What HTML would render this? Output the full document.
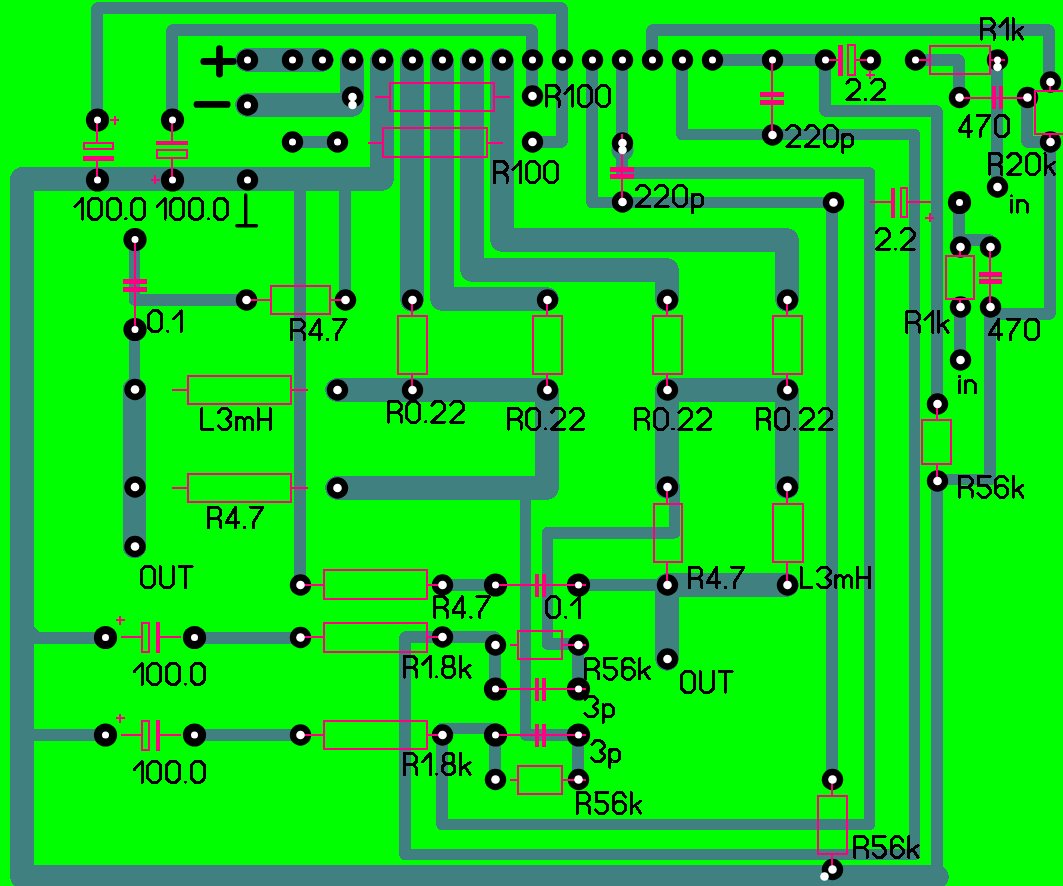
<!DOCTYPE html>
<html><head><meta charset="utf-8"><title>PCB layout</title>
<style>html,body{margin:0;padding:0;background:#00ff00;width:1063px;height:886px;overflow:hidden;font-family:"Liberation Sans",sans-serif}svg{display:block}</style>
</head><body>
<svg width="1063" height="886" viewBox="0 0 1063 886" shape-rendering="crispEdges"><rect width="1063" height="886" fill="#00ff00"/><path d="M97,120 L97,8 L562,8 L562,142 L532,142" stroke="#408080" stroke-width="11.5" fill="none" stroke-linecap="round" stroke-linejoin="round"/><path d="M172,120 L172,30 L532,30 L532,96" stroke="#408080" stroke-width="11.5" fill="none" stroke-linecap="round" stroke-linejoin="round"/><path d="M592,60 L592,202.5 L832,202.5 L832,779.5" stroke="#408080" stroke-width="11.5" fill="none" stroke-linecap="round" stroke-linejoin="round"/><path d="M622,60 L622,173 L869.5,173 L869.5,824.6 L442,824.6 L442,728.5 L495,728.5 L495,779.5" stroke="#408080" stroke-width="11.5" fill="none" stroke-linecap="round" stroke-linejoin="round"/><path d="M652,60 L652,30 L1049,30 L1049,82" stroke="#408080" stroke-width="11.5" fill="none" stroke-linecap="round" stroke-linejoin="round"/><path d="M682,60 L682,134.5 L914.5,134.5 L914.5,854.4 L405,854.4 L405,637 L495,637 L495,689" stroke="#408080" stroke-width="11.5" fill="none" stroke-linecap="round" stroke-linejoin="round"/><path d="M712,60 L825,60 L825,111 L937,111 L937,404" stroke="#408080" stroke-width="11.5" fill="none" stroke-linecap="round" stroke-linejoin="round"/><path d="M937,481 L937,877" stroke="#408080" stroke-width="11.5" fill="none" stroke-linecap="round" stroke-linejoin="round"/><path d="M990,307 L990,479.6 L937,479.6" stroke="#408080" stroke-width="11.5" fill="none" stroke-linecap="round" stroke-linejoin="round"/><path d="M1027,97.5 L1027,142 L1050,142 L1050,314 L990,314" stroke="#408080" stroke-width="11.5" fill="none" stroke-linecap="round" stroke-linejoin="round"/><path d="M915,60 L959,60 L959,97.5" stroke="#408080" stroke-width="11.5" fill="none" stroke-linecap="round" stroke-linejoin="round"/><path d="M997,67 L997,187" stroke="#408080" stroke-width="11.5" fill="none" stroke-linecap="round" stroke-linejoin="round"/><path d="M959,202.5 L959,240 L990,240" stroke="#408080" stroke-width="11.5" fill="none" stroke-linecap="round" stroke-linejoin="round"/><path d="M960,307 L960,360" stroke="#408080" stroke-width="11.5" fill="none" stroke-linecap="round" stroke-linejoin="round"/><path d="M292,142 L337,142" stroke="#408080" stroke-width="11.5" fill="none" stroke-linecap="round" stroke-linejoin="round"/><path d="M134.5,239.5 L134.5,300 L246,300" stroke="#408080" stroke-width="11.5" fill="none" stroke-linecap="round" stroke-linejoin="round"/><path d="M134.5,329.5 L134.5,389.5" stroke="#408080" stroke-width="11.5" fill="none" stroke-linecap="round" stroke-linejoin="round"/><path d="M300,179 L300,585" stroke="#408080" stroke-width="11.5" fill="none" stroke-linecap="round" stroke-linejoin="round"/><path d="M345,179 L345,300" stroke="#408080" stroke-width="11.5" fill="none" stroke-linecap="round" stroke-linejoin="round"/><path d="M442,585 L495,585" stroke="#408080" stroke-width="11.5" fill="none" stroke-linecap="round" stroke-linejoin="round"/><path d="M578,585 L667,585" stroke="#408080" stroke-width="11.5" fill="none" stroke-linecap="round" stroke-linejoin="round"/><path d="M22,637.8 L105,637.8" stroke="#408080" stroke-width="11.5" fill="none" stroke-linecap="round" stroke-linejoin="round"/><path d="M194,637.8 L300,637.8" stroke="#408080" stroke-width="11.5" fill="none" stroke-linecap="round" stroke-linejoin="round"/><path d="M22,735 L105,735" stroke="#408080" stroke-width="11.5" fill="none" stroke-linecap="round" stroke-linejoin="round"/><path d="M194,735 L300,735" stroke="#408080" stroke-width="11.5" fill="none" stroke-linecap="round" stroke-linejoin="round"/><path d="M674.7,487 L674.7,532.8 L547.5,532.8 L547.5,644 L578,644 L578,689" stroke="#408080" stroke-width="11.5" fill="none" stroke-linecap="round" stroke-linejoin="round"/><path d="M525.7,487 L525.7,735 L578,735 L578,779.5" stroke="#408080" stroke-width="11.5" fill="none" stroke-linecap="round" stroke-linejoin="round"/><path d="M247,60 L322,60" stroke="#408080" stroke-width="23.5" fill="none" stroke-linecap="round" stroke-linejoin="round"/><path d="M247,105 L352,105 L352,60" stroke="#408080" stroke-width="23.5" fill="none" stroke-linecap="round" stroke-linejoin="round"/><path d="M382,60 L382,179 L22,179 L22,877 L937,877" stroke="#408080" stroke-width="23.5" fill="none" stroke-linecap="round" stroke-linejoin="round"/><path d="M412,60 L412,300" stroke="#408080" stroke-width="23.5" fill="none" stroke-linecap="round" stroke-linejoin="round"/><path d="M442,60 L442,299 L547,299" stroke="#408080" stroke-width="23.5" fill="none" stroke-linecap="round" stroke-linejoin="round"/><path d="M472,60 L472,270 L667,270 L667,300" stroke="#408080" stroke-width="23.5" fill="none" stroke-linecap="round" stroke-linejoin="round"/><path d="M502,60 L502,240 L787,240 L787,300" stroke="#408080" stroke-width="23.5" fill="none" stroke-linecap="round" stroke-linejoin="round"/><path d="M337,390 L547,390 L547,488 L337,488" stroke="#408080" stroke-width="23.5" fill="none" stroke-linecap="round" stroke-linejoin="round"/><path d="M667,487 L667,390 L787,390 L787,487" stroke="#408080" stroke-width="23.5" fill="none" stroke-linecap="round" stroke-linejoin="round"/><path d="M134.5,389.5 L134.5,546.5" stroke="#408080" stroke-width="23.5" fill="none" stroke-linecap="round" stroke-linejoin="round"/><path d="M787,585 L667,585 L667,659" stroke="#408080" stroke-width="23.5" fill="none" stroke-linecap="round" stroke-linejoin="round"/><path d="M33.8,626.5V633H40Z" fill="#408080"/><circle cx="622.5" cy="150" r="11" fill="#408080" shape-rendering="auto"/><g fill="#000" shape-rendering="auto"><circle cx="247.5" cy="60" r="10.7"/><circle cx="292.5" cy="60" r="10.7"/><circle cx="322.5" cy="60" r="10.7"/><circle cx="352.5" cy="60" r="10.7"/><circle cx="382.5" cy="60" r="10.7"/><circle cx="412.5" cy="60" r="10.7"/><circle cx="442.5" cy="60" r="10.7"/><circle cx="472.5" cy="60" r="10.7"/><circle cx="502.5" cy="60" r="10.7"/><circle cx="532.5" cy="60" r="10.7"/><circle cx="562.5" cy="60" r="10.7"/><circle cx="592.5" cy="60" r="10.7"/><circle cx="622.5" cy="60" r="10.7"/><circle cx="652.5" cy="60" r="10.7"/><circle cx="682.5" cy="60" r="10.7"/><circle cx="712.5" cy="60" r="10.7"/><circle cx="772.5" cy="60" r="10.7"/><circle cx="825.5" cy="60" r="10.7"/><circle cx="870.5" cy="60" r="10.7"/><circle cx="915.5" cy="60" r="10.7"/><circle cx="997.5" cy="60" r="10.7"/><circle cx="97.5" cy="120" r="11.6"/><circle cx="172.5" cy="120" r="11.6"/><circle cx="97.5" cy="180" r="11.6"/><circle cx="172.5" cy="180" r="11.6"/><circle cx="247.5" cy="180" r="10.7"/><circle cx="247.5" cy="105" r="10.7"/><circle cx="352.5" cy="97" r="10.7"/><circle cx="292.5" cy="142" r="10.7"/><circle cx="337.5" cy="142" r="10.7"/><circle cx="532.5" cy="96" r="10.7"/><circle cx="532.5" cy="142" r="10.7"/><circle cx="622.5" cy="143" r="10.7"/><circle cx="622.5" cy="202" r="10.7"/><circle cx="772.5" cy="135" r="10.7"/><circle cx="833.5" cy="202.5" r="10.7"/><circle cx="959.5" cy="202.5" r="11.6"/><circle cx="959.5" cy="97.5" r="10.7"/><circle cx="1027.5" cy="97.5" r="10.7"/><circle cx="1050.5" cy="82" r="10.7"/><circle cx="1050.5" cy="142" r="10.7"/><circle cx="997.5" cy="187" r="10.7"/><circle cx="135.0" cy="239.5" r="11.6"/><circle cx="135.0" cy="329.5" r="11.6"/><circle cx="135.0" cy="389.5" r="10.7"/><circle cx="135.0" cy="487" r="10.7"/><circle cx="135.0" cy="546.5" r="10.7"/><circle cx="246.5" cy="300" r="10.7"/><circle cx="345.5" cy="300" r="10.7"/><circle cx="412.5" cy="300" r="10.7"/><circle cx="547.5" cy="300" r="10.7"/><circle cx="667.5" cy="300" r="10.7"/><circle cx="787.5" cy="300" r="10.7"/><circle cx="337.5" cy="390" r="10.7"/><circle cx="412.5" cy="390" r="10.7"/><circle cx="547.5" cy="390" r="10.7"/><circle cx="667.5" cy="390" r="10.7"/><circle cx="787.5" cy="390" r="10.7"/><circle cx="960.5" cy="247" r="10.7"/><circle cx="990.5" cy="247" r="10.7"/><circle cx="960.5" cy="307" r="10.7"/><circle cx="990.5" cy="307" r="10.7"/><circle cx="960.5" cy="360" r="10.7"/><circle cx="937.5" cy="404" r="10.7"/><circle cx="937.5" cy="481" r="10.7"/><circle cx="337.5" cy="488" r="10.7"/><circle cx="667.5" cy="487" r="10.7"/><circle cx="787.5" cy="487" r="10.7"/><circle cx="300.5" cy="585" r="10.7"/><circle cx="442.5" cy="585" r="10.7"/><circle cx="495.5" cy="585" r="11.6"/><circle cx="578.5" cy="585" r="11.6"/><circle cx="667.5" cy="585" r="10.7"/><circle cx="787.5" cy="585" r="10.7"/><circle cx="105.5" cy="637.5" r="11.6"/><circle cx="194.5" cy="637.5" r="11.6"/><circle cx="300.5" cy="637.5" r="10.7"/><circle cx="442.5" cy="637" r="10.7"/><circle cx="495.5" cy="645" r="10.7"/><circle cx="578.5" cy="645" r="10.7"/><circle cx="667.5" cy="659" r="10.7"/><circle cx="495.5" cy="689" r="11.6"/><circle cx="578.5" cy="689" r="11.6"/><circle cx="105.5" cy="735" r="11.6"/><circle cx="194.5" cy="735" r="11.6"/><circle cx="300.5" cy="735" r="10.7"/><circle cx="442.5" cy="735" r="10.7"/><circle cx="495.5" cy="735" r="11.6"/><circle cx="578.5" cy="735" r="11.6"/><circle cx="495.5" cy="779.5" r="10.7"/><circle cx="578.5" cy="779.5" r="10.7"/><circle cx="832.5" cy="779.5" r="10.7"/><circle cx="832.5" cy="869.5" r="10.7"/></g><line x1="97" y1="120" x2="97" y2="142" stroke="#ff0080" stroke-width="2"/><rect x="83.5" y="143.0" width="29.25" height="6" stroke="#ff0080" stroke-width="2" fill="none"/><rect x="82.5" y="155.5" width="31.25" height="5.0" fill="#ff0080"/><line x1="97" y1="160.5" x2="97" y2="180" stroke="#ff0080" stroke-width="2"/><line x1="110.0" y1="120" x2="119.0" y2="120" stroke="#ff0080" stroke-width="2"/><line x1="114.5" y1="115.5" x2="114.5" y2="124.5" stroke="#ff0080" stroke-width="2"/><line x1="172" y1="120" x2="172" y2="140.5" stroke="#ff0080" stroke-width="2"/><rect x="156.25" y="140.5" width="31.25" height="4.0" fill="#ff0080"/><rect x="157.25" y="150.0" width="29.25" height="8" stroke="#ff0080" stroke-width="2" fill="none"/><line x1="172" y1="159" x2="172" y2="180" stroke="#ff0080" stroke-width="2"/><line x1="150.5" y1="179.5" x2="159.5" y2="179.5" stroke="#ff0080" stroke-width="2"/><line x1="155" y1="175.0" x2="155" y2="184.0" stroke="#ff0080" stroke-width="2"/><line x1="134.5" y1="239.5" x2="134.5" y2="329.5" stroke="#ff0080" stroke-width="2"/><rect x="122.5" y="279" width="24.0" height="5" fill="#ff0080"/><rect x="122.5" y="287" width="24.0" height="5" fill="#ff0080"/><line x1="772" y1="60" x2="772" y2="135" stroke="#ff0080" stroke-width="2"/><rect x="760" y="92" width="24" height="5" fill="#ff0080"/><rect x="760" y="99.5" width="24" height="5.0" fill="#ff0080"/><line x1="622" y1="134" x2="622" y2="202" stroke="#ff0080" stroke-width="2"/><rect x="610" y="167" width="24" height="5" fill="#ff0080"/><rect x="610" y="174" width="24" height="5" fill="#ff0080"/><line x1="990" y1="247" x2="990" y2="307" stroke="#ff0080" stroke-width="2"/><rect x="978.5" y="272.4" width="23.0" height="4.5" fill="#ff0080"/><rect x="978.5" y="279.1" width="23.0" height="4.5" fill="#ff0080"/><line x1="959" y1="97.5" x2="1027" y2="97.5" stroke="#ff0080" stroke-width="2"/><rect x="992" y="86.0" width="4.2000000000000455" height="23.0" fill="#ff0080"/><rect x="998.6" y="86.0" width="4.2000000000000455" height="23.0" fill="#ff0080"/><line x1="499" y1="585" x2="586" y2="585" stroke="#ff0080" stroke-width="2"/><rect x="534.5" y="573.5" width="4.2000000000000455" height="23.0" fill="#ff0080"/><rect x="542" y="573.5" width="4.2000000000000455" height="23.0" fill="#ff0080"/><line x1="499" y1="689" x2="586" y2="689" stroke="#ff0080" stroke-width="2"/><rect x="534.5" y="677.5" width="4.2000000000000455" height="23.0" fill="#ff0080"/><rect x="542" y="677.5" width="4.2000000000000455" height="23.0" fill="#ff0080"/><line x1="499" y1="735" x2="586" y2="735" stroke="#ff0080" stroke-width="2"/><rect x="534.5" y="723.5" width="4.2000000000000455" height="23.0" fill="#ff0080"/><rect x="542" y="723.5" width="4.2000000000000455" height="23.0" fill="#ff0080"/><line x1="825" y1="60" x2="838" y2="60" stroke="#ff0080" stroke-width="2"/><rect x="838" y="45" width="5" height="30.799999999999997" fill="#ff0080"/><rect x="848.2" y="45.2" width="6.399999999999977" height="29.599999999999994" stroke="#ff0080" stroke-width="2" fill="none"/><line x1="855.6" y1="60" x2="870" y2="60" stroke="#ff0080" stroke-width="2"/><line x1="865.5" y1="74.5" x2="874.5" y2="74.5" stroke="#ff0080" stroke-width="2"/><line x1="870" y1="70.0" x2="870" y2="79.0" stroke="#ff0080" stroke-width="2"/><line x1="869.5" y1="202" x2="891" y2="202" stroke="#ff0080" stroke-width="2"/><rect x="891" y="187.5" width="4" height="30.0" fill="#ff0080"/><rect x="900.5" y="188.0" width="6.5" height="28.5" stroke="#ff0080" stroke-width="2" fill="none"/><line x1="908" y1="202" x2="930.75" y2="202" stroke="#ff0080" stroke-width="2"/><line x1="925.0" y1="217.5" x2="934.0" y2="217.5" stroke="#ff0080" stroke-width="2"/><line x1="929.5" y1="213.0" x2="929.5" y2="222.0" stroke="#ff0080" stroke-width="2"/><line x1="120.5" y1="637" x2="141.25" y2="637" stroke="#ff0080" stroke-width="2"/><rect x="142.25" y="622.75" width="6.75" height="28.75" stroke="#ff0080" stroke-width="2" fill="none"/><rect x="155.5" y="621.75" width="4.0" height="30.75" fill="#ff0080"/><line x1="159.5" y1="637" x2="180.5" y2="637" stroke="#ff0080" stroke-width="2"/><line x1="115.5" y1="620" x2="124.5" y2="620" stroke="#ff0080" stroke-width="2"/><line x1="120" y1="615.5" x2="120" y2="624.5" stroke="#ff0080" stroke-width="2"/><line x1="120.5" y1="735" x2="141.25" y2="735" stroke="#ff0080" stroke-width="2"/><rect x="142.25" y="720.75" width="6.75" height="28.75" stroke="#ff0080" stroke-width="2" fill="none"/><rect x="155.5" y="719.75" width="4.0" height="30.75" fill="#ff0080"/><line x1="159.5" y1="735" x2="180.5" y2="735" stroke="#ff0080" stroke-width="2"/><line x1="115.5" y1="718" x2="124.5" y2="718" stroke="#ff0080" stroke-width="2"/><line x1="120" y1="713.5" x2="120" y2="722.5" stroke="#ff0080" stroke-width="2"/><line x1="374.75" y1="96.5" x2="389" y2="96.5" stroke="#ff0080" stroke-width="2"/><rect x="390.0" y="82.5" width="104" height="28.25" stroke="#ff0080" stroke-width="2" fill="none"/><line x1="495" y1="96.5" x2="509.75" y2="96.5" stroke="#ff0080" stroke-width="2"/><line x1="368" y1="142.5" x2="382" y2="142.5" stroke="#ff0080" stroke-width="2"/><rect x="383.0" y="127.5" width="104" height="29.5" stroke="#ff0080" stroke-width="2" fill="none"/><line x1="488" y1="142.5" x2="503" y2="142.5" stroke="#ff0080" stroke-width="2"/><line x1="246" y1="300" x2="269.75" y2="300" stroke="#ff0080" stroke-width="2"/><rect x="270.75" y="285.5" width="58.75" height="28.5" stroke="#ff0080" stroke-width="2" fill="none"/><line x1="330.5" y1="300" x2="345" y2="300" stroke="#ff0080" stroke-width="2"/><line x1="172.2" y1="389.8" x2="186.5" y2="389.8" stroke="#ff0080" stroke-width="2"/><rect x="187.5" y="375.9" width="103.69999999999999" height="27.80000000000001" stroke="#ff0080" stroke-width="2" fill="none"/><line x1="292.2" y1="389.8" x2="307.6" y2="389.8" stroke="#ff0080" stroke-width="2"/><line x1="172.2" y1="487.8" x2="186.5" y2="487.8" stroke="#ff0080" stroke-width="2"/><rect x="187.5" y="474.0" width="103.69999999999999" height="27.69999999999999" stroke="#ff0080" stroke-width="2" fill="none"/><line x1="292.2" y1="487.8" x2="307.6" y2="487.8" stroke="#ff0080" stroke-width="2"/><line x1="300" y1="585" x2="323" y2="585" stroke="#ff0080" stroke-width="2"/><rect x="324.0" y="570.0" width="103" height="28.5" stroke="#ff0080" stroke-width="2" fill="none"/><line x1="428" y1="585" x2="442" y2="585" stroke="#ff0080" stroke-width="2"/><line x1="300" y1="637" x2="323" y2="637" stroke="#ff0080" stroke-width="2"/><rect x="324.0" y="623.0" width="103" height="28.75" stroke="#ff0080" stroke-width="2" fill="none"/><line x1="428" y1="637" x2="442" y2="637" stroke="#ff0080" stroke-width="2"/><line x1="300" y1="735" x2="323" y2="735" stroke="#ff0080" stroke-width="2"/><rect x="324.0" y="720.5" width="103" height="28.75" stroke="#ff0080" stroke-width="2" fill="none"/><line x1="428" y1="735" x2="442" y2="735" stroke="#ff0080" stroke-width="2"/><line x1="510" y1="645" x2="516.8" y2="645" stroke="#ff0080" stroke-width="2"/><rect x="517.8" y="630.8" width="44.40000000000009" height="28.600000000000023" stroke="#ff0080" stroke-width="2" fill="none"/><line x1="563.2" y1="645" x2="586" y2="645" stroke="#ff0080" stroke-width="2"/><line x1="510" y1="779.5" x2="516.8" y2="779.5" stroke="#ff0080" stroke-width="2"/><rect x="517.8" y="765.8" width="44.40000000000009" height="27.90000000000009" stroke="#ff0080" stroke-width="2" fill="none"/><line x1="563.2" y1="779.5" x2="586" y2="779.5" stroke="#ff0080" stroke-width="2"/><line x1="915" y1="60" x2="929" y2="60" stroke="#ff0080" stroke-width="2"/><rect x="930.0" y="45.5" width="59.5" height="28.5" stroke="#ff0080" stroke-width="2" fill="none"/><line x1="990.5" y1="60" x2="1005" y2="60" stroke="#ff0080" stroke-width="2"/><line x1="412" y1="300" x2="412" y2="314.5" stroke="#ff0080" stroke-width="2"/><rect x="397.5" y="315.5" width="29.0" height="58.5" stroke="#ff0080" stroke-width="2" fill="none"/><line x1="412" y1="375" x2="412" y2="390" stroke="#ff0080" stroke-width="2"/><line x1="547" y1="300" x2="547" y2="314.5" stroke="#ff0080" stroke-width="2"/><rect x="532.5" y="315.5" width="29.0" height="58.5" stroke="#ff0080" stroke-width="2" fill="none"/><line x1="547" y1="375" x2="547" y2="390" stroke="#ff0080" stroke-width="2"/><line x1="667" y1="300" x2="667" y2="314.5" stroke="#ff0080" stroke-width="2"/><rect x="652.5" y="315.5" width="29.0" height="58.5" stroke="#ff0080" stroke-width="2" fill="none"/><line x1="667" y1="375" x2="667" y2="390" stroke="#ff0080" stroke-width="2"/><line x1="787" y1="300" x2="787" y2="314.5" stroke="#ff0080" stroke-width="2"/><rect x="772.5" y="315.5" width="29.0" height="58.5" stroke="#ff0080" stroke-width="2" fill="none"/><line x1="787" y1="375" x2="787" y2="390" stroke="#ff0080" stroke-width="2"/><line x1="667" y1="487" x2="667" y2="502.75" stroke="#ff0080" stroke-width="2"/><rect x="653.5" y="503.75" width="28.75" height="58.0" stroke="#ff0080" stroke-width="2" fill="none"/><line x1="667" y1="562.75" x2="667" y2="585" stroke="#ff0080" stroke-width="2"/><line x1="787" y1="487" x2="787" y2="502.6" stroke="#ff0080" stroke-width="2"/><rect x="773.0" y="503.6" width="29.5" height="57.89999999999998" stroke="#ff0080" stroke-width="2" fill="none"/><line x1="787" y1="562.5" x2="787" y2="585" stroke="#ff0080" stroke-width="2"/><line x1="1050" y1="82" x2="1050" y2="90.3" stroke="#ff0080" stroke-width="2"/><rect x="1035.4" y="91.3" width="29.59999999999991" height="42.39999999999999" stroke="#ff0080" stroke-width="2" fill="none"/><line x1="1050" y1="134.7" x2="1050" y2="142" stroke="#ff0080" stroke-width="2"/><line x1="960" y1="247" x2="960" y2="255" stroke="#ff0080" stroke-width="2"/><rect x="945.5" y="256.0" width="28.700000000000045" height="43" stroke="#ff0080" stroke-width="2" fill="none"/><line x1="960" y1="300" x2="960" y2="307" stroke="#ff0080" stroke-width="2"/><line x1="937" y1="404" x2="937" y2="419" stroke="#ff0080" stroke-width="2"/><rect x="922.0" y="420.0" width="29" height="44.25" stroke="#ff0080" stroke-width="2" fill="none"/><line x1="937" y1="465.25" x2="937" y2="481" stroke="#ff0080" stroke-width="2"/><line x1="832" y1="779.5" x2="832" y2="794.5" stroke="#ff0080" stroke-width="2"/><rect x="817.5" y="795.5" width="29.0" height="58.25" stroke="#ff0080" stroke-width="2" fill="none"/><line x1="832" y1="854.75" x2="832" y2="869.5" stroke="#ff0080" stroke-width="2"/><g fill="#fff" shape-rendering="auto"><circle cx="247.5" cy="60" r="3.5"/><circle cx="292.5" cy="60" r="3.5"/><circle cx="322.5" cy="60" r="3.5"/><circle cx="352.5" cy="60" r="3.5"/><circle cx="382.5" cy="60" r="3.5"/><circle cx="412.5" cy="60" r="3.5"/><circle cx="442.5" cy="60" r="3.5"/><circle cx="472.5" cy="60" r="3.5"/><circle cx="502.5" cy="60" r="3.5"/><circle cx="532.5" cy="60" r="3.5"/><circle cx="562.5" cy="60" r="3.5"/><circle cx="592.5" cy="60" r="3.5"/><circle cx="622.5" cy="60" r="3.5"/><circle cx="652.5" cy="60" r="3.5"/><circle cx="682.5" cy="60" r="3.5"/><circle cx="712.5" cy="60" r="3.5"/><circle cx="772.5" cy="60" r="3.5"/><circle cx="825.5" cy="60" r="3.5"/><circle cx="870.5" cy="60" r="3.5"/><circle cx="915.5" cy="60" r="3.5"/><circle cx="997.5" cy="60" r="3.5"/><circle cx="97.5" cy="120" r="3.5"/><circle cx="172.5" cy="120" r="3.5"/><circle cx="97.5" cy="180" r="3.5"/><circle cx="172.5" cy="180" r="3.5"/><circle cx="247.5" cy="180" r="3.5"/><circle cx="247.5" cy="105" r="3.5"/><circle cx="352.5" cy="97" r="4.3"/><circle cx="292.5" cy="142" r="3.5"/><circle cx="337.5" cy="142" r="3.5"/><circle cx="532.5" cy="96" r="4.3"/><circle cx="532.5" cy="142" r="4.3"/><circle cx="622.5" cy="143" r="4.3"/><circle cx="622.5" cy="202" r="4.3"/><circle cx="772.5" cy="135" r="4.3"/><circle cx="833.5" cy="202.5" r="4.3"/><circle cx="959.5" cy="202.5" r="3.5"/><circle cx="959.5" cy="97.5" r="4.3"/><circle cx="1027.5" cy="97.5" r="4.3"/><circle cx="1050.5" cy="82" r="4.3"/><circle cx="1050.5" cy="142" r="4.3"/><circle cx="997.5" cy="187" r="4.3"/><circle cx="135.0" cy="239.5" r="3.5"/><circle cx="135.0" cy="329.5" r="3.5"/><circle cx="135.0" cy="389.5" r="4.3"/><circle cx="135.0" cy="487" r="4.3"/><circle cx="135.0" cy="546.5" r="4.3"/><circle cx="246.5" cy="300" r="4.3"/><circle cx="345.5" cy="300" r="4.3"/><circle cx="412.5" cy="300" r="4.3"/><circle cx="547.5" cy="300" r="4.3"/><circle cx="667.5" cy="300" r="4.3"/><circle cx="787.5" cy="300" r="4.3"/><circle cx="337.5" cy="390" r="4.3"/><circle cx="412.5" cy="390" r="4.3"/><circle cx="547.5" cy="390" r="4.3"/><circle cx="667.5" cy="390" r="4.3"/><circle cx="787.5" cy="390" r="4.3"/><circle cx="960.5" cy="247" r="4.3"/><circle cx="990.5" cy="247" r="4.3"/><circle cx="960.5" cy="307" r="4.3"/><circle cx="990.5" cy="307" r="4.3"/><circle cx="960.5" cy="360" r="4.3"/><circle cx="937.5" cy="404" r="4.3"/><circle cx="937.5" cy="481" r="4.3"/><circle cx="337.5" cy="488" r="4.3"/><circle cx="667.5" cy="487" r="4.3"/><circle cx="787.5" cy="487" r="4.3"/><circle cx="300.5" cy="585" r="4.3"/><circle cx="442.5" cy="585" r="4.3"/><circle cx="495.5" cy="585" r="3.5"/><circle cx="578.5" cy="585" r="3.5"/><circle cx="667.5" cy="585" r="4.3"/><circle cx="787.5" cy="585" r="4.3"/><circle cx="105.5" cy="637.5" r="3.5"/><circle cx="194.5" cy="637.5" r="3.5"/><circle cx="300.5" cy="637.5" r="4.3"/><circle cx="442.5" cy="637" r="4.3"/><circle cx="495.5" cy="645" r="4.3"/><circle cx="578.5" cy="645" r="4.3"/><circle cx="667.5" cy="659" r="4.3"/><circle cx="495.5" cy="689" r="3.5"/><circle cx="578.5" cy="689" r="3.5"/><circle cx="105.5" cy="735" r="3.5"/><circle cx="194.5" cy="735" r="3.5"/><circle cx="300.5" cy="735" r="4.3"/><circle cx="442.5" cy="735" r="4.3"/><circle cx="495.5" cy="735" r="3.5"/><circle cx="578.5" cy="735" r="3.5"/><circle cx="495.5" cy="779.5" r="4.3"/><circle cx="578.5" cy="779.5" r="4.3"/><circle cx="832.5" cy="779.5" r="4.3"/><circle cx="832.5" cy="869.5" r="4.3"/><circle cx="352.5" cy="105" r="4.3"/><circle cx="622.5" cy="150" r="4.3"/><circle cx="997.5" cy="67" r="4.3"/><circle cx="824.5" cy="876.5" r="4.3"/></g><g stroke="#000" stroke-linecap="round" fill="none" shape-rendering="auto"><path d="M203.8,61.5H233.2M219.5,48.7V74" stroke-width="6.8"/><path d="M197,104.4H227.2" stroke-width="6.8"/><path d="M245.7,195V226M236.8,225.8H256.5" stroke-width="3.4"/></g><g stroke="#000" stroke-width="3.0" fill="none" stroke-linecap="round" stroke-linejoin="round"><g transform="translate(74.90,198.40) scale(1.0,1.0)"><path transform="translate(0.00,0)" d="M0,8L7.8,0V20.8"/><path transform="translate(13.50,0)" d="M3.8,0H9.2L13,3.8V17L9.2,20.8H3.8L0,17V3.8Z"/><path transform="translate(32.20,0)" d="M3.8,0H9.2L13,3.8V17L9.2,20.8H3.8L0,17V3.8Z"/><path transform="translate(50.90,0)" d="M0,20.5H0.4"/><path transform="translate(57.00,0)" d="M3.8,0H9.2L13,3.8V17L9.2,20.8H3.8L0,17V3.8Z"/></g><g transform="translate(157.30,198.40) scale(1.0,1.0)"><path transform="translate(0.00,0)" d="M0,8L7.8,0V20.8"/><path transform="translate(13.50,0)" d="M3.8,0H9.2L13,3.8V17L9.2,20.8H3.8L0,17V3.8Z"/><path transform="translate(32.20,0)" d="M3.8,0H9.2L13,3.8V17L9.2,20.8H3.8L0,17V3.8Z"/><path transform="translate(50.90,0)" d="M0,20.5H0.4"/><path transform="translate(57.00,0)" d="M3.8,0H9.2L13,3.8V17L9.2,20.8H3.8L0,17V3.8Z"/></g><g transform="translate(546.50,85.50) scale(1.0,1.0)"><path transform="translate(0.00,0)" d="M0,20.8V0H9L12.5,3.5V7.5L9,11H0M9,11L12.5,14.5V20.8"/><path transform="translate(18.20,0)" d="M0,8L7.8,0V20.8"/><path transform="translate(31.70,0)" d="M3.8,0H9.2L13,3.8V17L9.2,20.8H3.8L0,17V3.8Z"/><path transform="translate(50.40,0)" d="M3.8,0H9.2L13,3.8V17L9.2,20.8H3.8L0,17V3.8Z"/></g><g transform="translate(494.50,161.60) scale(1.0,1.0)"><path transform="translate(0.00,0)" d="M0,20.8V0H9L12.5,3.5V7.5L9,11H0M9,11L12.5,14.5V20.8"/><path transform="translate(18.20,0)" d="M0,8L7.8,0V20.8"/><path transform="translate(31.70,0)" d="M3.8,0H9.2L13,3.8V17L9.2,20.8H3.8L0,17V3.8Z"/><path transform="translate(50.40,0)" d="M3.8,0H9.2L13,3.8V17L9.2,20.8H3.8L0,17V3.8Z"/></g><g transform="translate(786.70,125.80) scale(1.0,1.0)"><path transform="translate(0.00,0)" d="M0,4L3.8,0H9L12.8,3.8V8.6L0,20.8H13"/><path transform="translate(18.70,0)" d="M0,4L3.8,0H9L12.8,3.8V8.6L0,20.8H13"/><path transform="translate(37.40,0)" d="M3.8,0H9.2L13,3.8V17L9.2,20.8H3.8L0,17V3.8Z"/><path transform="translate(56.10,0)" d="M0,8.8V26.8M0,11.4L2.6,8.8H7.4L10,11.4V18.2L7.4,20.8H2.6L0,18.2"/></g><g transform="translate(636.40,185.60) scale(1.0,1.0)"><path transform="translate(0.00,0)" d="M0,4L3.8,0H9L12.8,3.8V8.6L0,20.8H13"/><path transform="translate(18.70,0)" d="M0,4L3.8,0H9L12.8,3.8V8.6L0,20.8H13"/><path transform="translate(37.40,0)" d="M3.8,0H9.2L13,3.8V17L9.2,20.8H3.8L0,17V3.8Z"/><path transform="translate(56.10,0)" d="M0,8.8V26.8M0,11.4L2.6,8.8H7.4L10,11.4V18.2L7.4,20.8H2.6L0,18.2"/></g><g transform="translate(846.90,79.10) scale(1.0,1.0)"><path transform="translate(0.00,0)" d="M0,4L3.8,0H9L12.8,3.8V8.6L0,20.8H13"/><path transform="translate(18.70,0)" d="M0,20.5H0.4"/><path transform="translate(24.80,0)" d="M0,4L3.8,0H9L12.8,3.8V8.6L0,20.8H13"/></g><g transform="translate(981.50,18.50) scale(1.0,1.0)"><path transform="translate(0.00,0)" d="M0,20.8V0H9L12.5,3.5V7.5L9,11H0M9,11L12.5,14.5V20.8"/><path transform="translate(18.20,0)" d="M0,8L7.8,0V20.8"/><path transform="translate(31.70,0)" d="M0,0V20.8M9.4,8.8L0,15.5M4,12.5L9.4,20.8"/></g><g transform="translate(959.40,115.60) scale(1.0,1.0)"><path transform="translate(0.00,0)" d="M9.2,20.8V0L0,14.6V15.6H12"/><path transform="translate(17.70,0)" d="M0,0H12.6L3,15.3V20.8"/><path transform="translate(36.00,0)" d="M3.8,0H9.2L13,3.8V17L9.2,20.8H3.8L0,17V3.8Z"/></g><g transform="translate(989.40,153.50) scale(1.0,1.0)"><path transform="translate(0.00,0)" d="M0,20.8V0H9L12.5,3.5V7.5L9,11H0M9,11L12.5,14.5V20.8"/><path transform="translate(18.20,0)" d="M0,4L3.8,0H9L12.8,3.8V8.6L0,20.8H13"/><path transform="translate(36.90,0)" d="M3.8,0H9.2L13,3.8V17L9.2,20.8H3.8L0,17V3.8Z"/><path transform="translate(55.60,0)" d="M0,0V20.8M9.4,8.8L0,15.5M4,12.5L9.4,20.8"/></g><g transform="translate(1011.50,191.30) scale(1.0,1.0)"><path transform="translate(0.00,0)" d="M0,8.8V20.8M0,4.6H0.2"/><path transform="translate(5.90,0)" d="M0,8.8V20.8M0,11.4L2.6,8.8H6.5L9.9,12.2V20.8"/></g><g transform="translate(876.40,228.50) scale(1.0,1.0)"><path transform="translate(0.00,0)" d="M0,4L3.8,0H9L12.8,3.8V8.6L0,20.8H13"/><path transform="translate(18.70,0)" d="M0,20.5H0.4"/><path transform="translate(24.80,0)" d="M0,4L3.8,0H9L12.8,3.8V8.6L0,20.8H13"/></g><g transform="translate(906.90,311.50) scale(1.0,1.0)"><path transform="translate(0.00,0)" d="M0,20.8V0H9L12.5,3.5V7.5L9,11H0M9,11L12.5,14.5V20.8"/><path transform="translate(18.20,0)" d="M0,8L7.8,0V20.8"/><path transform="translate(31.70,0)" d="M0,0V20.8M9.4,8.8L0,15.5M4,12.5L9.4,20.8"/></g><g transform="translate(989.70,319.00) scale(1.0,1.0)"><path transform="translate(0.00,0)" d="M9.2,20.8V0L0,14.6V15.6H12"/><path transform="translate(17.70,0)" d="M0,0H12.6L3,15.3V20.8"/><path transform="translate(36.00,0)" d="M3.8,0H9.2L13,3.8V17L9.2,20.8H3.8L0,17V3.8Z"/></g><g transform="translate(959.60,371.90) scale(1.0,1.0)"><path transform="translate(0.00,0)" d="M0,8.8V20.8M0,4.6H0.2"/><path transform="translate(5.90,0)" d="M0,8.8V20.8M0,11.4L2.6,8.8H6.5L9.9,12.2V20.8"/></g><g transform="translate(959.60,476.40) scale(1.0,1.0)"><path transform="translate(0.00,0)" d="M0,20.8V0H9L12.5,3.5V7.5L9,11H0M9,11L12.5,14.5V20.8"/><path transform="translate(18.20,0)" d="M12.3,0H0.5V9H8.5L12.3,12.8V17.2L8.7,20.8H3.6L0,17.2"/><path transform="translate(36.20,0)" d="M12,4.5L8.5,0H3.6L0,3.6V17.2L3.6,20.8H8.4L12,17.2V12.6L8.4,9H3.6L0,12.6"/><path transform="translate(53.90,0)" d="M0,0V20.8M9.4,8.8L0,15.5M4,12.5L9.4,20.8"/></g><g transform="translate(148.70,310.80) scale(1.0,1.0)"><path transform="translate(0.00,0)" d="M3.8,0H9.2L13,3.8V17L9.2,20.8H3.8L0,17V3.8Z"/><path transform="translate(18.70,0)" d="M0,20.5H0.4"/><path transform="translate(24.80,0)" d="M0,8L7.8,0V20.8"/></g><g transform="translate(291.60,319.10) scale(1.0,1.0)"><path transform="translate(0.00,0)" d="M0,20.8V0H9L12.5,3.5V7.5L9,11H0M9,11L12.5,14.5V20.8"/><path transform="translate(18.20,0)" d="M9.2,20.8V0L0,14.6V15.6H12"/><path transform="translate(35.90,0)" d="M0,20.5H0.4"/><path transform="translate(42.00,0)" d="M0,0H12.6L3,15.3V20.8"/></g><g transform="translate(201.70,408.70) scale(1.0,1.0)"><path transform="translate(0.00,0)" d="M0,0V20.8H11"/><path transform="translate(16.70,0)" d="M0,4L3.6,0H8.9L12.5,3.6V6.6L8.2,10.4L12.5,14.2V17.2L8.9,20.8H3.6L0,17.2"/><path transform="translate(34.90,0)" d="M0,8.8V20.8M0,11.4L2.6,8.8H5.4L8,11.4V20.8M8,11.4L10.6,8.8H13.4L16,11.4V20.8"/><path transform="translate(56.60,0)" d="M0,0V20.8M12,0V20.8M0,10.6H12"/></g><g transform="translate(388.75,401.30) scale(1.0,1.0)"><path transform="translate(0.00,0)" d="M0,20.8V0H9L12.5,3.5V7.5L9,11H0M9,11L12.5,14.5V20.8"/><path transform="translate(18.20,0)" d="M3.8,0H9.2L13,3.8V17L9.2,20.8H3.8L0,17V3.8Z"/><path transform="translate(36.90,0)" d="M0,20.5H0.4"/><path transform="translate(43.00,0)" d="M0,4L3.8,0H9L12.8,3.8V8.6L0,20.8H13"/><path transform="translate(61.70,0)" d="M0,4L3.8,0H9L12.8,3.8V8.6L0,20.8H13"/></g><g transform="translate(508.60,408.40) scale(1.0,1.0)"><path transform="translate(0.00,0)" d="M0,20.8V0H9L12.5,3.5V7.5L9,11H0M9,11L12.5,14.5V20.8"/><path transform="translate(18.20,0)" d="M3.8,0H9.2L13,3.8V17L9.2,20.8H3.8L0,17V3.8Z"/><path transform="translate(36.90,0)" d="M0,20.5H0.4"/><path transform="translate(43.00,0)" d="M0,4L3.8,0H9L12.8,3.8V8.6L0,20.8H13"/><path transform="translate(61.70,0)" d="M0,4L3.8,0H9L12.8,3.8V8.6L0,20.8H13"/></g><g transform="translate(635.90,408.50) scale(1.0,1.0)"><path transform="translate(0.00,0)" d="M0,20.8V0H9L12.5,3.5V7.5L9,11H0M9,11L12.5,14.5V20.8"/><path transform="translate(18.20,0)" d="M3.8,0H9.2L13,3.8V17L9.2,20.8H3.8L0,17V3.8Z"/><path transform="translate(36.90,0)" d="M0,20.5H0.4"/><path transform="translate(43.00,0)" d="M0,4L3.8,0H9L12.8,3.8V8.6L0,20.8H13"/><path transform="translate(61.70,0)" d="M0,4L3.8,0H9L12.8,3.8V8.6L0,20.8H13"/></g><g transform="translate(757.40,408.50) scale(1.0,1.0)"><path transform="translate(0.00,0)" d="M0,20.8V0H9L12.5,3.5V7.5L9,11H0M9,11L12.5,14.5V20.8"/><path transform="translate(18.20,0)" d="M3.8,0H9.2L13,3.8V17L9.2,20.8H3.8L0,17V3.8Z"/><path transform="translate(36.90,0)" d="M0,20.5H0.4"/><path transform="translate(43.00,0)" d="M0,4L3.8,0H9L12.8,3.8V8.6L0,20.8H13"/><path transform="translate(61.70,0)" d="M0,4L3.8,0H9L12.8,3.8V8.6L0,20.8H13"/></g><g transform="translate(208.40,507.10) scale(1.0,1.0)"><path transform="translate(0.00,0)" d="M0,20.8V0H9L12.5,3.5V7.5L9,11H0M9,11L12.5,14.5V20.8"/><path transform="translate(18.20,0)" d="M9.2,20.8V0L0,14.6V15.6H12"/><path transform="translate(35.90,0)" d="M0,20.5H0.4"/><path transform="translate(42.00,0)" d="M0,0H12.6L3,15.3V20.8"/></g><g transform="translate(141.40,566.70) scale(1.0,1.0)"><path transform="translate(0.00,0)" d="M3.6,0H9.5L13.1,3.6V17.2L9.5,20.8H3.6L0,17.2V3.6Z"/><path transform="translate(18.80,0)" d="M0,0V17.2L3.6,20.8H9.5L13.1,17.2V0"/><path transform="translate(37.60,0)" d="M0,0H13.1M6.55,0V20.8"/></g><g transform="translate(689.40,567.00) scale(1.0,1.0)"><path transform="translate(0.00,0)" d="M0,20.8V0H9L12.5,3.5V7.5L9,11H0M9,11L12.5,14.5V20.8"/><path transform="translate(18.20,0)" d="M9.2,20.8V0L0,14.6V15.6H12"/><path transform="translate(35.90,0)" d="M0,20.5H0.4"/><path transform="translate(42.00,0)" d="M0,0H12.6L3,15.3V20.8"/></g><g transform="translate(801.00,567.00) scale(1.0,1.0)"><path transform="translate(0.00,0)" d="M0,0V20.8H11"/><path transform="translate(16.70,0)" d="M0,4L3.6,0H8.9L12.5,3.6V6.6L8.2,10.4L12.5,14.2V17.2L8.9,20.8H3.6L0,17.2"/><path transform="translate(34.90,0)" d="M0,8.8V20.8M0,11.4L2.6,8.8H5.4L8,11.4V20.8M8,11.4L10.6,8.8H13.4L16,11.4V20.8"/><path transform="translate(56.60,0)" d="M0,0V20.8M12,0V20.8M0,10.6H12"/></g><g transform="translate(434.80,596.80) scale(1.0,1.0)"><path transform="translate(0.00,0)" d="M0,20.8V0H9L12.5,3.5V7.5L9,11H0M9,11L12.5,14.5V20.8"/><path transform="translate(18.20,0)" d="M9.2,20.8V0L0,14.6V15.6H12"/><path transform="translate(35.90,0)" d="M0,20.5H0.4"/><path transform="translate(42.00,0)" d="M0,0H12.6L3,15.3V20.8"/></g><g transform="translate(546.90,596.80) scale(1.0,1.0)"><path transform="translate(0.00,0)" d="M3.8,0H9.2L13,3.8V17L9.2,20.8H3.8L0,17V3.8Z"/><path transform="translate(18.70,0)" d="M0,20.5H0.4"/><path transform="translate(24.80,0)" d="M0,8L7.8,0V20.8"/></g><g transform="translate(134.40,663.50) scale(1.0,1.0)"><path transform="translate(0.00,0)" d="M0,8L7.8,0V20.8"/><path transform="translate(13.50,0)" d="M3.8,0H9.2L13,3.8V17L9.2,20.8H3.8L0,17V3.8Z"/><path transform="translate(32.20,0)" d="M3.8,0H9.2L13,3.8V17L9.2,20.8H3.8L0,17V3.8Z"/><path transform="translate(50.90,0)" d="M0,20.5H0.4"/><path transform="translate(57.00,0)" d="M3.8,0H9.2L13,3.8V17L9.2,20.8H3.8L0,17V3.8Z"/></g><g transform="translate(404.40,656.40) scale(1.0,1.0)"><path transform="translate(0.00,0)" d="M0,20.8V0H9L12.5,3.5V7.5L9,11H0M9,11L12.5,14.5V20.8"/><path transform="translate(18.20,0)" d="M0,8L7.8,0V20.8"/><path transform="translate(31.70,0)" d="M0,20.5H0.4"/><path transform="translate(37.80,0)" d="M3.4,0H9.3L11.7,2.4V7.4L9.3,9.8H3.4L1,7.4V2.4ZM3.4,9.8L0,13.2V17.4L3.4,20.8H9.3L12.7,17.4V13.2L9.3,9.8"/><path transform="translate(56.20,0)" d="M0,0V20.8M9.4,8.8L0,15.5M4,12.5L9.4,20.8"/></g><g transform="translate(585.90,658.20) scale(1.0,1.0)"><path transform="translate(0.00,0)" d="M0,20.8V0H9L12.5,3.5V7.5L9,11H0M9,11L12.5,14.5V20.8"/><path transform="translate(18.20,0)" d="M12.3,0H0.5V9H8.5L12.3,12.8V17.2L8.7,20.8H3.6L0,17.2"/><path transform="translate(36.20,0)" d="M12,4.5L8.5,0H3.6L0,3.6V17.2L3.6,20.8H8.4L12,17.2V12.6L8.4,9H3.6L0,12.6"/><path transform="translate(53.90,0)" d="M0,0V20.8M9.4,8.8L0,15.5M4,12.5L9.4,20.8"/></g><g transform="translate(681.50,671.40) scale(1.0,1.0)"><path transform="translate(0.00,0)" d="M3.6,0H9.5L13.1,3.6V17.2L9.5,20.8H3.6L0,17.2V3.6Z"/><path transform="translate(18.80,0)" d="M0,0V17.2L3.6,20.8H9.5L13.1,17.2V0"/><path transform="translate(37.60,0)" d="M0,0H13.1M6.55,0V20.8"/></g><g transform="translate(584.90,696.00) scale(1.0,1.0)"><path transform="translate(0.00,0)" d="M0,4L3.6,0H8.9L12.5,3.6V6.6L8.2,10.4L12.5,14.2V17.2L8.9,20.8H3.6L0,17.2"/><path transform="translate(18.20,0)" d="M0,8.8V26.8M0,11.4L2.6,8.8H7.4L10,11.4V18.2L7.4,20.8H2.6L0,18.2"/></g><g transform="translate(591.70,740.70) scale(1.0,1.0)"><path transform="translate(0.00,0)" d="M0,4L3.6,0H8.9L12.5,3.6V6.6L8.2,10.4L12.5,14.2V17.2L8.9,20.8H3.6L0,17.2"/><path transform="translate(18.20,0)" d="M0,8.8V26.8M0,11.4L2.6,8.8H7.4L10,11.4V18.2L7.4,20.8H2.6L0,18.2"/></g><g transform="translate(134.40,761.50) scale(1.0,1.0)"><path transform="translate(0.00,0)" d="M0,8L7.8,0V20.8"/><path transform="translate(13.50,0)" d="M3.8,0H9.2L13,3.8V17L9.2,20.8H3.8L0,17V3.8Z"/><path transform="translate(32.20,0)" d="M3.8,0H9.2L13,3.8V17L9.2,20.8H3.8L0,17V3.8Z"/><path transform="translate(50.90,0)" d="M0,20.5H0.4"/><path transform="translate(57.00,0)" d="M3.8,0H9.2L13,3.8V17L9.2,20.8H3.8L0,17V3.8Z"/></g><g transform="translate(404.40,753.60) scale(1.0,1.0)"><path transform="translate(0.00,0)" d="M0,20.8V0H9L12.5,3.5V7.5L9,11H0M9,11L12.5,14.5V20.8"/><path transform="translate(18.20,0)" d="M0,8L7.8,0V20.8"/><path transform="translate(31.70,0)" d="M0,20.5H0.4"/><path transform="translate(37.80,0)" d="M3.4,0H9.3L11.7,2.4V7.4L9.3,9.8H3.4L1,7.4V2.4ZM3.4,9.8L0,13.2V17.4L3.4,20.8H9.3L12.7,17.4V13.2L9.3,9.8"/><path transform="translate(56.20,0)" d="M0,0V20.8M9.4,8.8L0,15.5M4,12.5L9.4,20.8"/></g><g transform="translate(577.30,792.50) scale(1.0,1.0)"><path transform="translate(0.00,0)" d="M0,20.8V0H9L12.5,3.5V7.5L9,11H0M9,11L12.5,14.5V20.8"/><path transform="translate(18.20,0)" d="M12.3,0H0.5V9H8.5L12.3,12.8V17.2L8.7,20.8H3.6L0,17.2"/><path transform="translate(36.20,0)" d="M12,4.5L8.5,0H3.6L0,3.6V17.2L3.6,20.8H8.4L12,17.2V12.6L8.4,9H3.6L0,12.6"/><path transform="translate(53.90,0)" d="M0,0V20.8M9.4,8.8L0,15.5M4,12.5L9.4,20.8"/></g><g transform="translate(854.80,836.60) scale(1.0,1.0)"><path transform="translate(0.00,0)" d="M0,20.8V0H9L12.5,3.5V7.5L9,11H0M9,11L12.5,14.5V20.8"/><path transform="translate(18.20,0)" d="M12.3,0H0.5V9H8.5L12.3,12.8V17.2L8.7,20.8H3.6L0,17.2"/><path transform="translate(36.20,0)" d="M12,4.5L8.5,0H3.6L0,3.6V17.2L3.6,20.8H8.4L12,17.2V12.6L8.4,9H3.6L0,12.6"/><path transform="translate(53.90,0)" d="M0,0V20.8M9.4,8.8L0,15.5M4,12.5L9.4,20.8"/></g></g></svg>
</body></html>
